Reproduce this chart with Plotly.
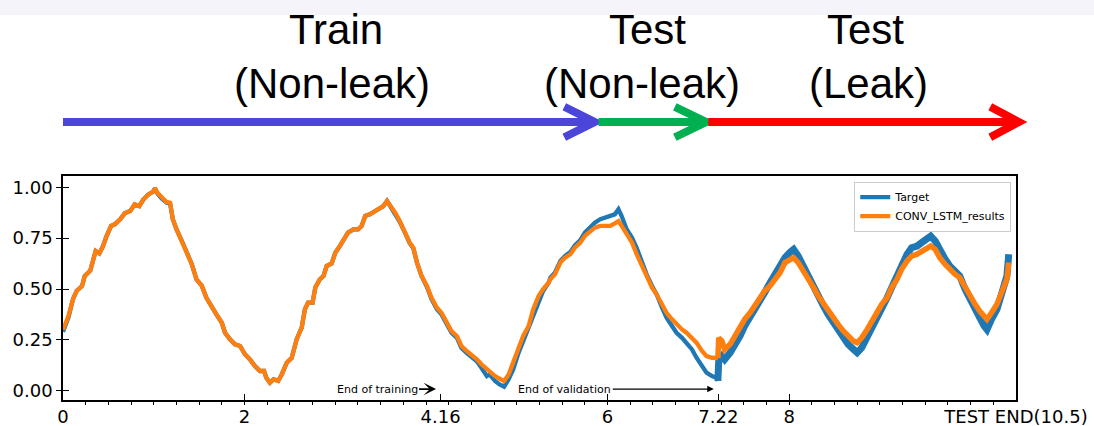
import plotly.graph_objects as go

# ---------------- data ----------------
x_vals = [0.00, 0.06, 0.11, 0.15, 0.21, 0.24, 0.30, 0.33, 0.36, 0.40, 0.44, 0.48, 0.53, 0.57, 0.63, 0.68,
          0.74, 0.79, 0.84, 0.885, 0.94, 0.99, 1.014, 1.04, 1.087, 1.14, 1.18, 1.21, 1.25, 1.31, 1.36, 1.42,
          1.47, 1.53, 1.58, 1.64, 1.69, 1.75, 1.785, 1.84, 1.895, 1.95, 2.005, 2.06, 2.115, 2.17, 2.215, 2.24,
          2.28, 2.32, 2.37, 2.41, 2.465, 2.52, 2.575, 2.63, 2.665, 2.70, 2.75, 2.78, 2.83, 2.87, 2.905, 2.96,
          3.00, 3.05, 3.11, 3.14, 3.20, 3.25, 3.29, 3.33, 3.38, 3.44, 3.49, 3.53, 3.57, 3.61, 3.66, 3.71,
          3.77, 3.82, 3.86, 3.90, 3.95, 4.01, 4.06, 4.12, 4.17, 4.23, 4.28, 4.34, 4.39, 4.45, 4.50, 4.56,
          4.61, 4.67, 4.70, 4.76, 4.81, 4.86, 4.91, 4.96, 5.02, 5.07, 5.13, 5.18, 5.24, 5.29, 5.35, 5.37,
          5.42, 5.48, 5.53, 5.59, 5.64, 5.70, 5.75, 5.81, 5.86, 5.92, 5.97, 6.03, 6.08, 6.12, 6.155, 6.21,
          6.27, 6.32, 6.38, 6.43, 6.49, 6.54, 6.60, 6.65, 6.71, 6.76, 6.82, 6.87, 6.93, 6.98, 7.04, 7.09,
          7.15, 7.20, 7.215, 7.225, 7.26, 7.29, 7.35, 7.40, 7.46, 7.51, 7.57, 7.62, 7.68, 7.73, 7.79, 7.84,
          7.90, 7.955, 8.01, 8.05, 8.10, 8.16, 8.21, 8.27, 8.32, 8.38, 8.43, 8.49, 8.54, 8.60, 8.65, 8.71,
          8.75, 8.80, 8.86, 8.91, 8.97, 9.02, 9.08, 9.13, 9.19, 9.24, 9.30, 9.35, 9.41, 9.46, 9.52, 9.56,
          9.61, 9.66, 9.72, 9.77, 9.83, 9.88, 9.94, 9.99, 10.05, 10.10, 10.15, 10.18, 10.23, 10.29, 10.34, 10.40,
          10.42]

target = [0.29, 0.36, 0.45, 0.49, 0.515, 0.564, 0.59, 0.638, 0.687, 0.675, 0.71, 0.76, 0.81, 0.818, 0.843, 0.872,
          0.883, 0.916, 0.908, 0.94, 0.965, 0.977, 0.995, 0.97, 0.945, 0.925, 0.92, 0.843, 0.794, 0.736, 0.679, 0.621,
          0.548, 0.515, 0.457, 0.408, 0.375, 0.334, 0.285, 0.253, 0.228, 0.22, 0.179, 0.154, 0.121, 0.097, 0.097, 0.064,
          0.039, 0.056, 0.048, 0.08, 0.138, 0.162, 0.253, 0.31, 0.40, 0.433, 0.433, 0.507, 0.548, 0.564, 0.613, 0.626,
          0.678, 0.711, 0.752, 0.777, 0.793, 0.793, 0.81, 0.859, 0.867, 0.883, 0.892, 0.908, 0.933, 0.905, 0.872, 0.83,
          0.775, 0.725, 0.70, 0.63, 0.564, 0.51, 0.45, 0.40, 0.375, 0.325, 0.285, 0.26, 0.21, 0.185, 0.165, 0.145,
          0.113, 0.072, 0.08, 0.048, 0.031, 0.02, 0.056, 0.105, 0.187, 0.244, 0.301, 0.367, 0.44, 0.49, 0.53, 0.556,
          0.58, 0.638, 0.662, 0.682, 0.715, 0.74, 0.777, 0.802, 0.826, 0.843, 0.851, 0.859, 0.867, 0.892, 0.859, 0.794,
          0.752, 0.703, 0.63, 0.572, 0.515, 0.474, 0.408, 0.359, 0.318, 0.285, 0.26, 0.236, 0.203, 0.162, 0.121, 0.089,
          0.072, 0.064, 0.048, 0.15, 0.17, 0.154, 0.187, 0.22, 0.269, 0.318, 0.359, 0.40, 0.44, 0.482, 0.531, 0.572,
          0.61, 0.654, 0.68, 0.695, 0.662, 0.605, 0.564, 0.515, 0.457, 0.416, 0.375, 0.334, 0.293, 0.26, 0.228, 0.203,
          0.187, 0.211, 0.26, 0.31, 0.359, 0.408, 0.457, 0.507, 0.564, 0.621, 0.671, 0.703, 0.711, 0.728, 0.744, 0.76,
          0.736, 0.687, 0.646, 0.613, 0.58, 0.564, 0.499, 0.45, 0.408, 0.359, 0.318, 0.301, 0.351, 0.40, 0.474, 0.564,
          0.671]

conv_lstm = [0.30, 0.367, 0.45, 0.49, 0.515, 0.564, 0.59, 0.638, 0.687, 0.675, 0.71, 0.76, 0.81, 0.818, 0.843, 0.872,
             0.883, 0.916, 0.908, 0.94, 0.965, 0.977, 0.995, 0.973, 0.949, 0.928, 0.924, 0.843, 0.794, 0.736, 0.679, 0.621,
             0.548, 0.515, 0.457, 0.408, 0.375, 0.334, 0.285, 0.253, 0.228, 0.22, 0.179, 0.154, 0.121, 0.097, 0.097, 0.064,
             0.039, 0.056, 0.048, 0.08, 0.138, 0.162, 0.253, 0.31, 0.40, 0.433, 0.433, 0.507, 0.548, 0.564, 0.613, 0.626,
             0.678, 0.711, 0.752, 0.777, 0.793, 0.793, 0.81, 0.859, 0.867, 0.883, 0.892, 0.908, 0.933, 0.908, 0.875, 0.834,
             0.777, 0.728, 0.703, 0.63, 0.564, 0.515, 0.457, 0.408, 0.383, 0.334, 0.293, 0.269, 0.22, 0.195, 0.179, 0.154,
             0.13, 0.105, 0.097, 0.072, 0.059, 0.048, 0.08, 0.138, 0.203, 0.269, 0.318, 0.40, 0.466, 0.50, 0.531, 0.548,
             0.572, 0.63, 0.654, 0.671, 0.703, 0.728, 0.761, 0.785, 0.802, 0.81, 0.81, 0.81, 0.823, 0.834, 0.81, 0.769,
             0.728, 0.671, 0.613, 0.564, 0.507, 0.474, 0.425, 0.383, 0.351, 0.326, 0.301, 0.285, 0.26, 0.236, 0.195, 0.17,
             0.162, 0.162, 0.16, 0.26, 0.244, 0.203, 0.228, 0.269, 0.31, 0.351, 0.383, 0.416, 0.457, 0.49, 0.515, 0.548,
             0.58, 0.63, 0.646, 0.654, 0.63, 0.589, 0.548, 0.507, 0.466, 0.425, 0.392, 0.359, 0.326, 0.293, 0.269, 0.244,
             0.236, 0.26, 0.301, 0.342, 0.383, 0.425, 0.457, 0.507, 0.548, 0.597, 0.638, 0.662, 0.671, 0.687, 0.703, 0.711,
             0.695, 0.654, 0.621, 0.597, 0.572, 0.556, 0.507, 0.466, 0.425, 0.392, 0.367, 0.351, 0.383, 0.425, 0.482, 0.548,
             0.63]

tick_vals = [0, 2, 4.16, 6, 7.22, 8, 10.5]
tick_text = ["0", "2", "4.16", "6", "7.22", "8", "TEST END(10.5)"]
y_ticks = [0.0, 0.25, 0.5, 0.75, 1.0]
y_text = ["0.00", "0.25", "0.50", "0.75", "1.00"]

leak_start = 7.215
train_end_tip = 4.11
valid_end_tip = 7.17

# ---------------- figure ----------------
BLUE = "#1f77b4"
ORANGE = "#ff7f0e"
MPL_FONT = "DejaVu Sans"

pre_idx = [i for i, x in enumerate(x_vals) if x <= leak_start]
leak_idx = [i for i, x in enumerate(x_vals) if x >= leak_start]

fig = go.Figure()
for name, series, color, w_pre, w_leak in [("Target", target, BLUE, 4.3, 7),
                                           ("CONV_LSTM_results", conv_lstm, ORANGE, 4.3, 5.5)]:
    fig.add_trace(go.Scatter(x=[x_vals[i] for i in pre_idx], y=[series[i] for i in pre_idx],
                             mode="lines", name=name, legendgroup=name,
                             line=dict(color=color, width=w_pre)))
    fig.add_trace(go.Scatter(x=[x_vals[i] for i in leak_idx], y=[series[i] for i in leak_idx],
                             mode="lines", name=name, legendgroup=name, showlegend=False,
                             line=dict(color=color, width=w_leak)))

# invisible helper trace so the second (inward-tick) y axis is drawn
fig.add_trace(go.Scatter(x=[0], y=[0], yaxis="y2", mode="markers", marker=dict(opacity=0),
                         showlegend=False, hoverinfo="skip"))

axis_font = dict(family=MPL_FONT, size=18, color="black")

fig.update_layout(
    width=1094, height=426,
    margin=dict(l=63, r=78, t=176, b=26, autoexpand=False),
    paper_bgcolor="white", plot_bgcolor="white",
    showlegend=True,
    legend=dict(x=0.995, y=0.975, xanchor="right", yanchor="top",
                bgcolor="white", bordercolor="#cccccc", borderwidth=1,
                font=dict(family=MPL_FONT, size=11, color="black"),
                tracegroupgap=0, itemwidth=30),
    xaxis=dict(range=[0, 10.5], tickmode="array", tickvals=tick_vals, ticktext=tick_text,
               ticks="inside", ticklen=6, tickwidth=1.2, tickcolor="black",
               minor=dict(ticks="outside", ticklen=3, tickwidth=1, tickcolor="black",
                          tickmode="linear", tick0=0, dtick=0.25),
               showline=True, linecolor="black", linewidth=1.5, mirror=True, automargin=False,
               showgrid=False, zeroline=False, tickfont=axis_font),
    yaxis=dict(range=[-0.0457, 1.0556], tickmode="array", tickvals=y_ticks, ticktext=y_text,
               ticks="outside", ticklen=5, tickwidth=1.2, tickcolor="black", automargin=False,
               showline=True, linecolor="black", linewidth=1.5, mirror=True,
               showgrid=False, zeroline=False, tickfont=axis_font),
    yaxis2=dict(overlaying="y", matches="y", side="left", tickmode="array", tickvals=y_ticks,
                ticks="inside", ticklen=6, tickwidth=1.2, tickcolor="black", automargin=False,
                showticklabels=False, showgrid=False, zeroline=False, showline=False),
)

# ---------------- annotations on the chart ----------------
fig.add_annotation(x=train_end_tip, y=0.008, xref="x", yref="y", text="End of training",
                   showarrow=True, ax=-59, ay=0, arrowhead=3, arrowsize=1.3, arrowwidth=1.6,
                   arrowcolor="black", font=dict(family=MPL_FONT, size=11, color="black"))
fig.add_annotation(x=valid_end_tip, y=0.008, xref="x", yref="y", text="End of validation",
                   showarrow=True, ax=-149, ay=0, arrowhead=2, arrowsize=1, arrowwidth=1.3,
                   arrowcolor="black", font=dict(family=MPL_FONT, size=11, color="black"))

# ---------------- header (slide part above the chart) ----------------
HEAD_FONT = dict(family="Liberation Sans, Arial, sans-serif", size=42, color="black")
header_labels = [("Train", 0.2865, 1.652), ("(Non-leak)", 0.282, 1.415),
                 ("Test", 0.613, 1.652), ("(Non-leak)", 0.6076, 1.415),
                 ("Test", 0.8416, 1.652), ("(Leak)", 0.8457, 1.415)]
for txt, px, py in header_labels:
    fig.add_annotation(x=px, y=py, xref="paper", yref="paper", text=txt, showarrow=False,
                       xanchor="center", yanchor="middle", font=HEAD_FONT)

# faint band at the very top
fig.add_shape(type="rect", xref="paper", yref="paper", x0=-0.07, x1=1.09, y0=1.719, y1=1.79,
              fillcolor="#f4f4fa", line=dict(width=0), layer="below")

arrow_y = 1.241
arm_dy = 0.068
header_arrows = [("#4b45da", 0.0, 0.558, 0.526), ("#00b050", 0.562, 0.675, 0.642),
                 ("#ff0000", 0.677, 1.003, 0.973)]
for color, x0, tip, back in header_arrows:
    fig.add_shape(type="line", xref="paper", yref="paper", x0=x0, x1=tip - 0.002, y0=arrow_y, y1=arrow_y,
                  line=dict(color=color, width=8))
    fig.add_shape(type="path", xref="paper", yref="paper",
                  path=f"M {back} {arrow_y + arm_dy} L {tip} {arrow_y} L {back} {arrow_y - arm_dy}",
                  line=dict(color=color, width=8), fillcolor="rgba(0,0,0,0)")

fig.write_html("out.html", config={"displayModeBar": False},
               post_script="document.body.style.margin='0px';")
